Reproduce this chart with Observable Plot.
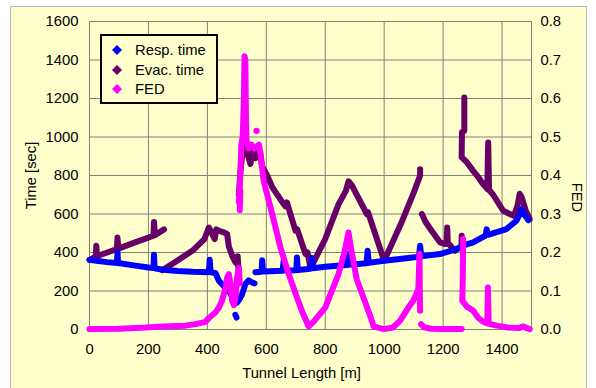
<!DOCTYPE html>
<html>
<head>
<meta charset="utf-8">
<script src="https://cdn.jsdelivr.net/npm/d3@7"></script>
<script src="https://cdn.jsdelivr.net/npm/@observablehq/plot@0.6"></script>
<style>
  html, body { margin: 0; padding: 0; background: #ffffff; }
  #wrap { position: relative; width: 596px; height: 388px; overflow: hidden; font-family: "Liberation Sans", Arial, sans-serif; }
  #panel { position: absolute; left: 10px; top: 6px; width: 577px; height: 400px; background: #FFFFCC; border: 1px solid #b8b8b8; box-sizing: border-box; }
  #chart { position: absolute; left: 0; top: 0; }
  #legend { position: absolute; left: 100px; top: 34px; width: 118px; height: 70px; box-sizing: border-box; border: 2px solid #000; background: #FFFFCC; font-size: 14.8px; color: #000; }
  .item { position: absolute; left: 0; height: 18px; line-height: 18px; white-space: nowrap; }
  .item svg { position: absolute; left: 10px; top: 4px; }
  .item span { position: absolute; left: 33px; top: 0; }
</style>
</head>
<body>
<div id="wrap">
  <div id="panel"></div>
  <div id="chart"></div>
  <div id="legend"></div>
</div>
<script>
// ---------- data ----------
// Axis ticks
const xTicks = [0, 200, 400, 600, 800, 1000, 1200, 1400];
const timeTicks = [0, 200, 400, 600, 800, 1000, 1200, 1400, 1600];
const fedTicks = [0.0, 0.1, 0.2, 0.3, 0.4, 0.5, 0.6, 0.7, 0.8];
const seriesNames = ["Resp. time", "Evac. time", "FED"];
const seriesColors = ["#0000FF", "#660066", "#FF00FF"];

// Resp. time [sec] vs tunnel length [m]
const respA = [[0,362],[30,356],[60,350],[93,346],[95,400],[97,345],[150,333],[200,322],[217,320],[219,388],[221,318],[250,310],[300,304],[350,300],[405,298],[408,362],[411,298],[428,292],[439,253],[456,225],[473,201],[484,170],[490,155],[501,140],[512,165],[518,184],[529,236],[540,255],[552,244],[560,240]];
const respBlob = [[495,76],[499,62]];
const respB = [[563,298],[584,300],[586,360],[589,301],[655,305],[659,357],[662,306],[702,308],[704,374],[707,309],[750,316],[755,372],[758,318],[800,326],[850,332],[874,335],[876,392],[879,336],[885,337],[888,400],[891,338],[940,344],[944,409],[948,346],[1000,357],[1060,368],[1118,378],[1122,435],[1126,380],[1189,392],[1246,418],[1269,435],[1275,440],[1302,452],[1344,488],[1348,520],[1352,492],[1415,522],[1449,565],[1462,605],[1466,625],[1475,600],[1489,568]];

// Evac. time [sec]
const evacA = [[0,362],[21,378],[23,435],[26,382],[60,400],[93,418],[95,478],[98,420],[150,450],[217,487],[219,558],[222,490],[253,520]];
const evacB = [[247,308],[300,360],[350,410],[390,470],[405,530],[415,500],[425,470],[430,520],[439,513],[455,505],[467,496],[473,430],[485,380],[495,350],[501,342],[503,380],[506,300]];
const evacC = [[507,700],[512,820],[518,900],[524,955],[535,920],[546,860],[557,945],[563,890],[580,911],[585,850],[603,800],[620,740],[659,651],[665,640],[670,660],[699,513],[705,520],[733,392],[740,400],[750,318],[800,470],[845,650],[870,720],[879,770],[890,750],[941,600],[945,610],[1000,357],[1060,560],[1100,710],[1122,800],[1122,833]];
const evacD = [[1128,600],[1140,560],[1161,513],[1190,452],[1207,444],[1212,450],[1214,530],[1216,450],[1240,409],[1250,420],[1262,426],[1263,487],[1265,430]];
const evacE = [[1272,1205],[1272,1032],[1264,1025],[1263,894],[1280,870],[1302,824],[1320,790],[1336,755],[1350,730],[1353,972],[1356,725],[1370,700],[1404,617],[1440,590],[1452,640],[1460,705],[1466,690],[1480,620],[1494,573]];

// FED [-] (right axis)
const fedA = [[0,0.001],[100,0.002],[191,0.005],[250,0.008],[326,0.01],[360,0.014],[394,0.02],[405,0.03],[428,0.045],[439,0.057],[450,0.075],[462,0.109],[467,0.135],[473,0.144],[478,0.12],[484,0.075],[490,0.063],[495,0.08],[500,0.13],[507,0.16],[510,0.12]];
const fedB = [[510,0.31],[512,0.36]];
const fedC = [[507,0.33],[512,0.40],[515,0.48],[520,0.50],[524,0.6],[526,0.71],[529,0.70],[531,0.55],[533,0.49],[540,0.47],[550,0.48],[560,0.47],[575,0.48],[580,0.46],[586,0.42],[591,0.386],[620,0.30],[648,0.213],[676,0.144],[704,0.083],[725,0.04],[744,0.008],[760,0.02],[800,0.057],[845,0.144],[865,0.2],[879,0.252],[890,0.2],[907,0.13],[936,0.07],[955,0.03],[964,0.008],[998,0.001],[1030,0.005],[1054,0.023],[1082,0.057],[1099,0.075],[1116,0.105],[1120,0.196],[1121,0.1],[1122,0.049]];
const fedD = [[1125,0.014],[1135,0.006],[1160,0.002],[1200,0.001],[1263,0.001]];
const fedE = [[1268,0.235],[1267,0.15],[1266,0.1],[1265,0.075],[1280,0.06],[1302,0.049],[1320,0.03],[1336,0.02],[1350,0.016],[1352,0.109],[1355,0.015],[1382,0.01],[1420,0.005],[1460,0.004],[1470,0.008],[1494,0.001]];
const fedDots = [[567,0.516]];

// ---------- build ----------
const FED_SCALE = 2000; // 0.8 FED = 1600 sec on the shared vertical scale
function rows(segs, k = 1) {
  return segs.flatMap((s, i) => s.map(([x, y]) => ({x, y: y * k, seg: i})));
}
const resp = rows([respA, respBlob, respB]);
const evac = rows([evacA, evacB, evacC, evacD, evacE]);
const fed = rows([fedA, fedB, fedC, fedD, fedE], FED_SCALE);
const fedPts = rows([fedDots], FED_SCALE);

const font = '"Liberation Sans", Arial, sans-serif';
const lineOpts = (color) => ({x: "x", y: "y", z: "seg", stroke: color, strokeWidth: 6, strokeLinejoin: "round", strokeLinecap: "round"});

const chart = Plot.plot({
  width: 596,
  height: 388,
  marginLeft: 89,
  marginRight: 65,
  marginTop: 21,
  marginBottom: 59,
  style: {background: "transparent", fontFamily: font, fontSize: "14.8px", color: "#000", overflow: "visible"},
  x: {domain: [0, 1500]},
  y: {domain: [0, 1600]},
  marks: [
    Plot.gridX(xTicks, {stroke: "#808080", strokeOpacity: 1, strokeWidth: 1}),
    Plot.gridY(timeTicks, {stroke: "#808080", strokeOpacity: 1, strokeWidth: 1}),
    Plot.frame({stroke: "#808080", strokeWidth: 1}),
    Plot.axisX({ticks: xTicks, tickSize: 0, tickPadding: 14, label: null, tickFormat: d => String(d)}),
    Plot.axisY({ticks: timeTicks, anchor: "left", tickSize: 0, tickPadding: 11, label: null, tickFormat: d => String(d)}),
    Plot.axisY({ticks: timeTicks, anchor: "right", tickSize: 0, tickPadding: 9, label: null, tickFormat: d => (d / FED_SCALE).toFixed(1)}),
    Plot.line(evac, lineOpts(seriesColors[1])),
    Plot.line(resp, lineOpts(seriesColors[0])),
    Plot.line(fed, lineOpts(seriesColors[2])),
    Plot.dot(fedPts, {x: "x", y: "y", r: 3.2, fill: seriesColors[2], stroke: null}),
    Plot.text(["Time [sec]"], {frameAnchor: "left", dx: -58, rotate: -90, textAnchor: "middle", lineAnchor: "middle", fontSize: 14.8, fill: "#000"}),
    Plot.text(["FED"], {frameAnchor: "right", dx: 45, dy: 22, rotate: 90, textAnchor: "middle", lineAnchor: "middle", fontSize: 14.8, fill: "#000"}),
    Plot.text(["Tunnel Length [m]"], {frameAnchor: "bottom", dx: -9, dy: 44, textAnchor: "middle", lineAnchor: "middle", fontSize: 14.8, fill: "#000"})
  ]
});
document.getElementById("chart").appendChild(chart);

// legend
const legend = document.getElementById("legend");
const rowTops = [5, 25, 44];
seriesNames.forEach((name, i) => {
  const item = document.createElement("div");
  item.className = "item";
  item.style.top = rowTops[i] + "px";
  item.innerHTML = `<svg width="10" height="10" viewBox="0 0 10 10"><path d="M5 0 L10 5 L5 10 L0 5 Z" fill="${seriesColors[i]}"/></svg><span>${name}</span>`;
  legend.appendChild(item);
});
</script>
</body>
</html>
